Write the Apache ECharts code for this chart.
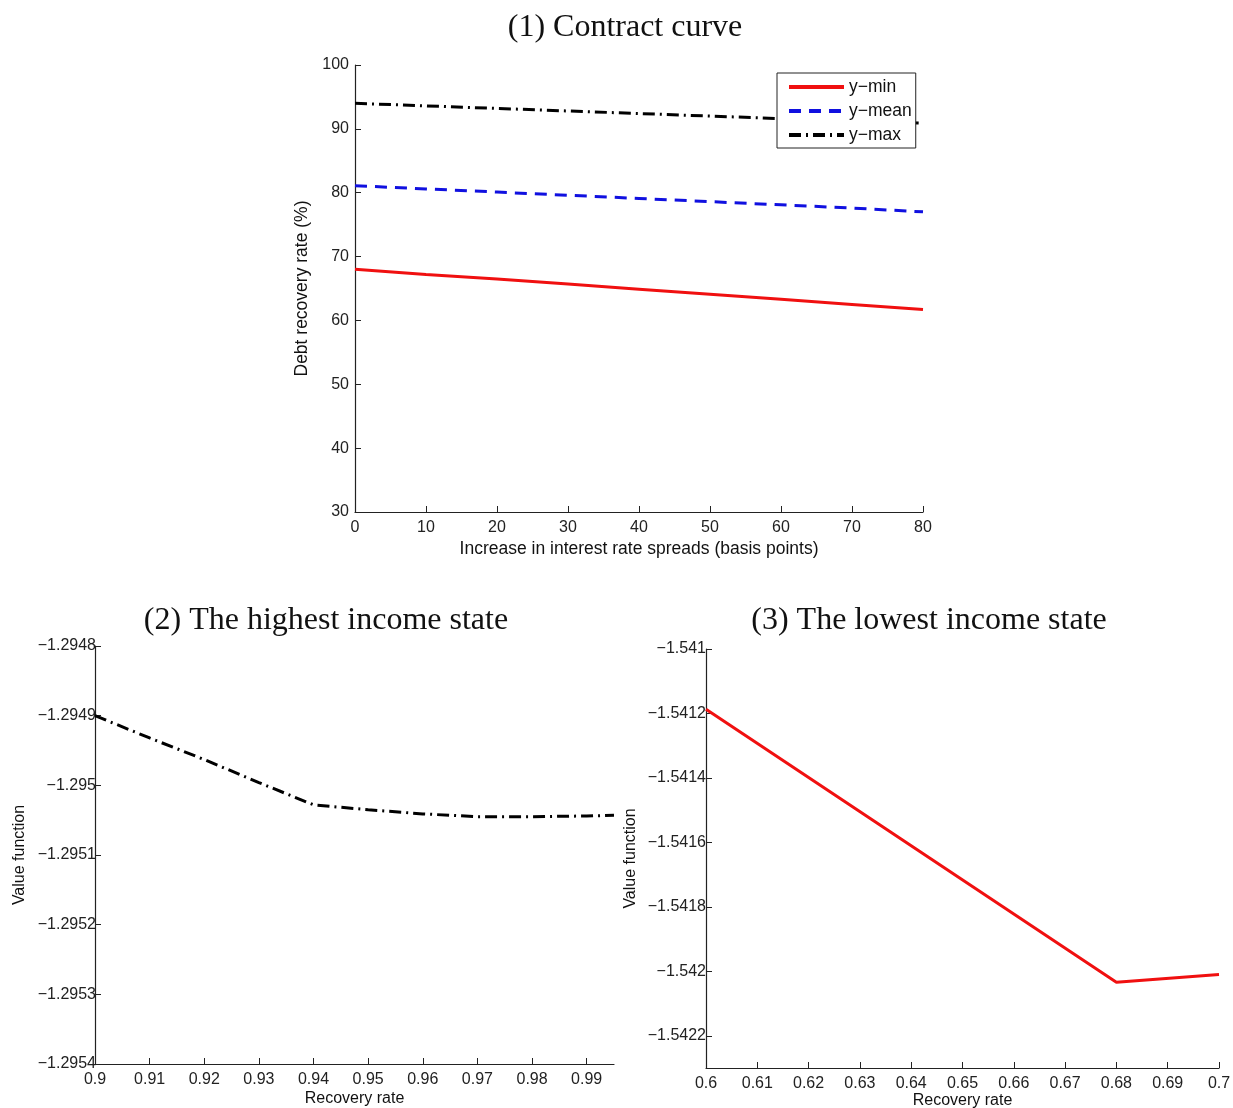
<!DOCTYPE html>
<html>
<head>
<meta charset="utf-8">
<script src="https://cdn.jsdelivr.net/npm/echarts@6/dist/echarts.min.js"></script>
<style>
html,body{margin:0;padding:0;background:#fff;}
#chart{width:1233px;height:1108px;}
</style>
</head>
<body>
<div id="chart"></div>
<script>
// ---- Panel 1: Contract curve ----
const spreads = [0, 10, 20, 30, 40, 50, 60, 70, 80];
const yMin  = [68.0, 67.2, 66.5, 65.7, 64.9, 64.1, 63.3, 62.5, 61.7];
const yMean = [81.1, 80.6, 80.1, 79.6, 79.1, 78.6, 78.1, 77.6, 77.0];
const yMax  = [94.0, 93.6, 93.2, 92.8, 92.4, 92.0, 91.6, 91.2, 90.9];

// ---- Panel 2: highest income state ----
const recHigh = [0.90, 0.91, 0.92, 0.93, 0.94, 0.95, 0.96, 0.97, 0.98, 0.99, 0.995];
const valHigh = [-1.294900, -1.294932, -1.294963, -1.294996, -1.295028, -1.295035, -1.295041, -1.295045, -1.295045, -1.295044, -1.295043];
const highXTicks = [0.9, 0.91, 0.92, 0.93, 0.94, 0.95, 0.96, 0.97, 0.98, 0.99];
const highYTicks = [-1.2954, -1.2953, -1.2952, -1.2951, -1.295, -1.2949, -1.2948];

// ---- Panel 3: lowest income state ----
const recLow = [0.60, 0.68, 0.70];
const valLow = [-1.541187, -1.542034, -1.542010];
const lowXTicks = [0.6, 0.61, 0.62, 0.63, 0.64, 0.65, 0.66, 0.67, 0.68, 0.69, 0.7];
const lowYTicks = [-1.5422, -1.542, -1.5418, -1.5416, -1.5414, -1.5412, -1.541];

const zip = (xs, ys) => xs.map((x, i) => [x, ys[i]]);
const fmt = v => parseFloat(Number(v).toFixed(6)).toString().replace('-', '\u2212');

const SANS = 'Liberation Sans, Arial, sans-serif';
const SERIF = 'Liberation Serif, Times New Roman, serif';
const AX = '#222';

function xAxisBase(gridIndex, name, nameGap, nameSize) {
  return {
    type: 'value', gridIndex,
    name, nameLocation: 'middle', nameGap,
    nameTextStyle: { fontFamily: SANS, fontSize: nameSize, color: '#111' },
    axisLine: { show: true, onZero: false, lineStyle: { color: AX, width: 1.2 } },
    axisTick: { show: true, inside: true, length: 6, lineStyle: { color: AX } },
    axisLabel: { fontFamily: SANS, fontSize: 16, color: '#222', margin: 8, formatter: fmt },
    splitLine: { show: false }
  };
}
function yAxisBase(gridIndex, name, nameGap, margin, nameSize) {
  return {
    type: 'value', gridIndex,
    name, nameLocation: 'middle', nameGap, nameRotate: 90,
    nameTextStyle: { fontFamily: SANS, fontSize: nameSize, color: '#111' },
    axisLine: { show: true, onZero: false, lineStyle: { color: AX, width: 1.2 } },
    axisTick: { show: true, inside: true, length: 6, lineStyle: { color: AX } },
    axisLabel: { fontFamily: SANS, fontSize: 16, color: '#222', margin, formatter: fmt },
    splitLine: { show: false }
  };
}

const x1 = Object.assign(xAxisBase(0, 'Increase in interest rate spreads (basis points)', 28, 17.5), { min: 0, max: 80, interval: 10 });
const y1 = Object.assign(yAxisBase(0, 'Debt recovery rate (%)', 44, 6, 17.5), { min: 30, max: 100, interval: 10 });

const x2 = xAxisBase(1, 'Recovery rate', 27, 16);
Object.assign(x2, { min: 0.9, max: 0.995 });
x2.axisLabel.customValues = highXTicks; x2.axisTick.customValues = highXTicks;
const y2 = yAxisBase(1, 'Value function', 67, -1, 16);
Object.assign(y2, { min: -1.2954, max: -1.2948 });
y2.axisLabel.customValues = highYTicks; y2.axisTick.customValues = highYTicks;

const x3 = xAxisBase(2, 'Recovery rate', 25, 16);
Object.assign(x3, { min: 0.6, max: 0.7 });
x3.axisLabel.customValues = lowXTicks; x3.axisTick.customValues = lowXTicks;
const y3 = yAxisBase(2, 'Value function', 67, 0, 16);
Object.assign(y3, { min: -1.5423, max: -1.541 });
y3.axisLabel.customValues = lowYTicks; y3.axisTick.customValues = lowYTicks;

const titleStyle = { fontFamily: SERIF, fontSize: 32, fontWeight: 'normal', color: '#111' };

const legendNames = ['y\u2212min', 'y\u2212mean', 'y\u2212max'];

const option = {
  backgroundColor: '#fff',
  animation: false,
  title: [
    { text: '(1) Contract curve', left: 620, top: 7, textAlign: 'center', textStyle: titleStyle },
    { text: '(2) The highest income state', left: 321, top: 600, textAlign: 'center', textStyle: titleStyle },
    { text: '(3) The lowest income state', left: 924, top: 600, textAlign: 'center', textStyle: titleStyle }
  ],
  legend: {
    orient: 'vertical', left: 777, top: 73,
    backgroundColor: '#fff', borderColor: '#222', borderWidth: 1,
    padding: [5, 4, 4, 10], itemWidth: 55, itemHeight: 14, itemGap: 6,
    textStyle: { fontFamily: SANS, fontSize: 17.5, color: '#111', lineHeight: 18 },
    itemStyle: { opacity: 0 },
    lineStyle: { width: 4 },
    data: legendNames.map(n => ({ name: n, itemStyle: { opacity: 0 } }))
  },
  grid: [
    { left: 355, top: 65, width: 568, height: 447, outerBoundsMode: 'none', containLabel: false },
    { left: 95, top: 646, width: 519, height: 418, outerBoundsMode: 'none', containLabel: false },
    { left: 706, top: 649, width: 513, height: 419, outerBoundsMode: 'none', containLabel: false }
  ],
  xAxis: [x1, x2, x3],
  yAxis: [y1, y2, y3],
  series: [
    { name: legendNames[0], type: 'line', xAxisIndex: 0, yAxisIndex: 0, symbol: 'none', data: zip(spreads, yMin),
      lineStyle: { color: '#f01010', width: 3, type: 'solid' }, itemStyle: { color: '#f01010' } },
    { name: legendNames[1], type: 'line', xAxisIndex: 0, yAxisIndex: 0, symbol: 'none', data: zip(spreads, yMean),
      lineStyle: { color: '#1010e0', width: 3, type: [12, 8] }, itemStyle: { color: '#1010e0' } },
    { name: legendNames[2], type: 'line', xAxisIndex: 0, yAxisIndex: 0, symbol: 'none', data: zip(spreads, yMax),
      lineStyle: { color: '#000', width: 3, type: [12, 5, 2, 5] }, itemStyle: { color: '#000' } },
    { name: 'high', type: 'line', xAxisIndex: 1, yAxisIndex: 1, symbol: 'none', data: zip(recHigh, valHigh),
      lineStyle: { color: '#000', width: 3, type: [12, 5, 2, 5] } },
    { name: 'low', type: 'line', xAxisIndex: 2, yAxisIndex: 2, symbol: 'none', data: zip(recLow, valLow),
      lineStyle: { color: '#f01010', width: 3, type: 'solid' } }
  ]
};

const chart = echarts.init(document.getElementById('chart'), null, { renderer: 'canvas' });
chart.setOption(option);
</script>
</body>
</html>
